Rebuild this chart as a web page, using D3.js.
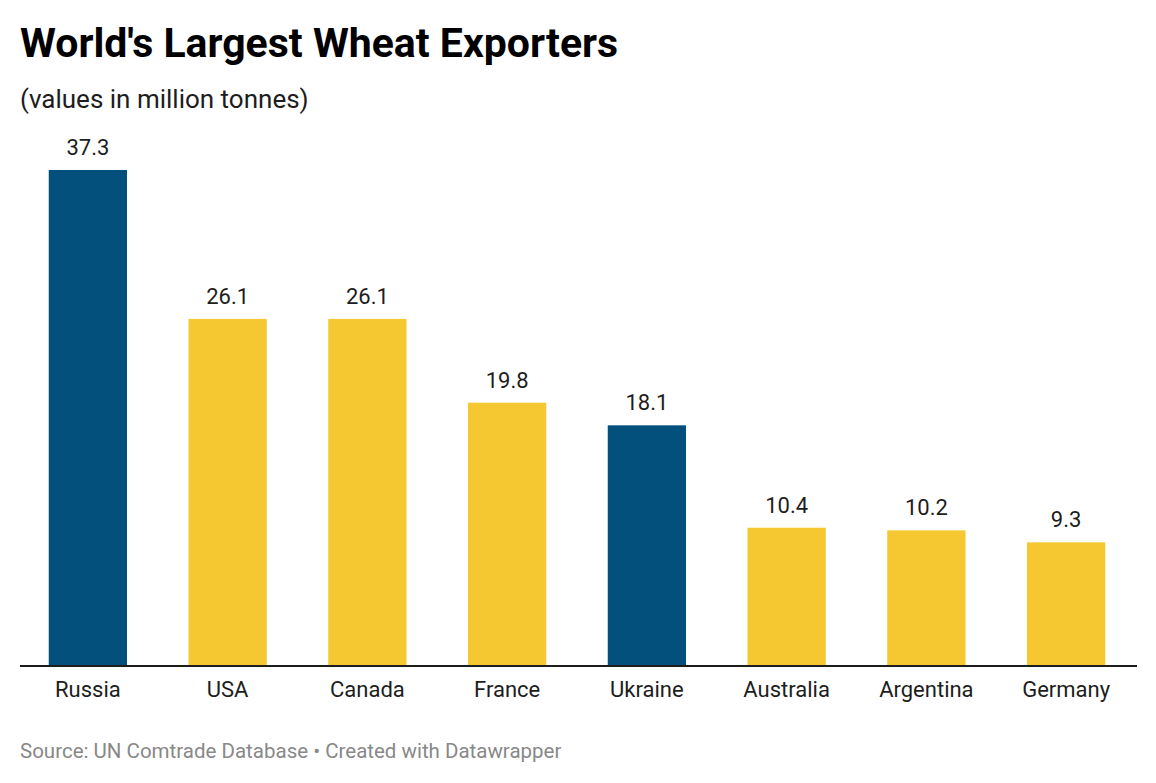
<!DOCTYPE html>
<html>
<head>
<meta charset="utf-8">
<script src="https://cdn.jsdelivr.net/npm/d3@7/dist/d3.min.js"></script>
<style>
  html, body { margin: 0; padding: 0; background: #fff; }
  svg { display: block; font-family: Roboto, sans-serif; }
</style>
</head>
<body>
<svg id="chart" width="1156" height="783"></svg>
<script>
const categories = ["Russia", "USA", "Canada", "France", "Ukraine", "Australia", "Argentina", "Germany"];
const values = [37.3, 26.1, 26.1, 19.8, 18.1, 10.4, 10.2, 9.3];
const highlighted = ["Russia", "Ukraine"];
const title = "World's Largest Wheat Exporters";
const subtitle = "(values in million tonnes)";
const source = "Source: UN Comtrade Database • Created with Datawrapper";

const data = categories.map((c, i) => ({ name: c, value: values[i] }));
const svg = d3.select("#chart");

const baseY = 666, topY = 170;
const x = d3.scaleBand().domain(categories).range([18, 1136]).paddingInner(0.44).paddingOuter(0.22);
const y = d3.scaleLinear().domain([0, d3.max(values)]).range([baseY, topY]);

svg.append("text").attr("x", 20).attr("y", 57)
  .attr("font-size", 41).attr("font-weight", 700).attr("fill", "#000")
  .text(title);
svg.append("text").attr("x", 20).attr("y", 108)
  .attr("font-size", 26).attr("fill", "#1d1d1d")
  .text(subtitle);

svg.append("g").selectAll("rect").data(data).join("rect")
  .attr("x", d => x(d.name))
  .attr("width", x.bandwidth())
  .attr("y", d => y(d.value))
  .attr("height", d => baseY - y(d.value))
  .attr("fill", d => highlighted.includes(d.name) ? "#03507d" : "#f5c832");

svg.append("g").selectAll("text").data(data).join("text")
  .attr("x", d => x(d.name) + x.bandwidth() / 2)
  .attr("y", d => y(d.value) - 15)
  .attr("text-anchor", "middle")
  .attr("font-size", 22).attr("fill", "#1d1d1d")
  .text(d => d.value.toFixed(1));

const axis = d3.axisBottom(x).tickSize(0).tickPadding(15);
const ag = svg.append("g").attr("transform", `translate(0,${baseY})`).call(axis);
ag.select(".domain").attr("stroke", "#1d1d1d").attr("stroke-width", 2)
  .attr("d", "M20,0H1137");
ag.selectAll("text").attr("font-size", 22).attr("fill", "#1d1d1d")
  .attr("font-family", "Roboto, sans-serif");

svg.append("text").attr("x", 20).attr("y", 758)
  .attr("font-size", 20.5).attr("fill", "#888")
  .text(source);
</script>
</body>
</html>
